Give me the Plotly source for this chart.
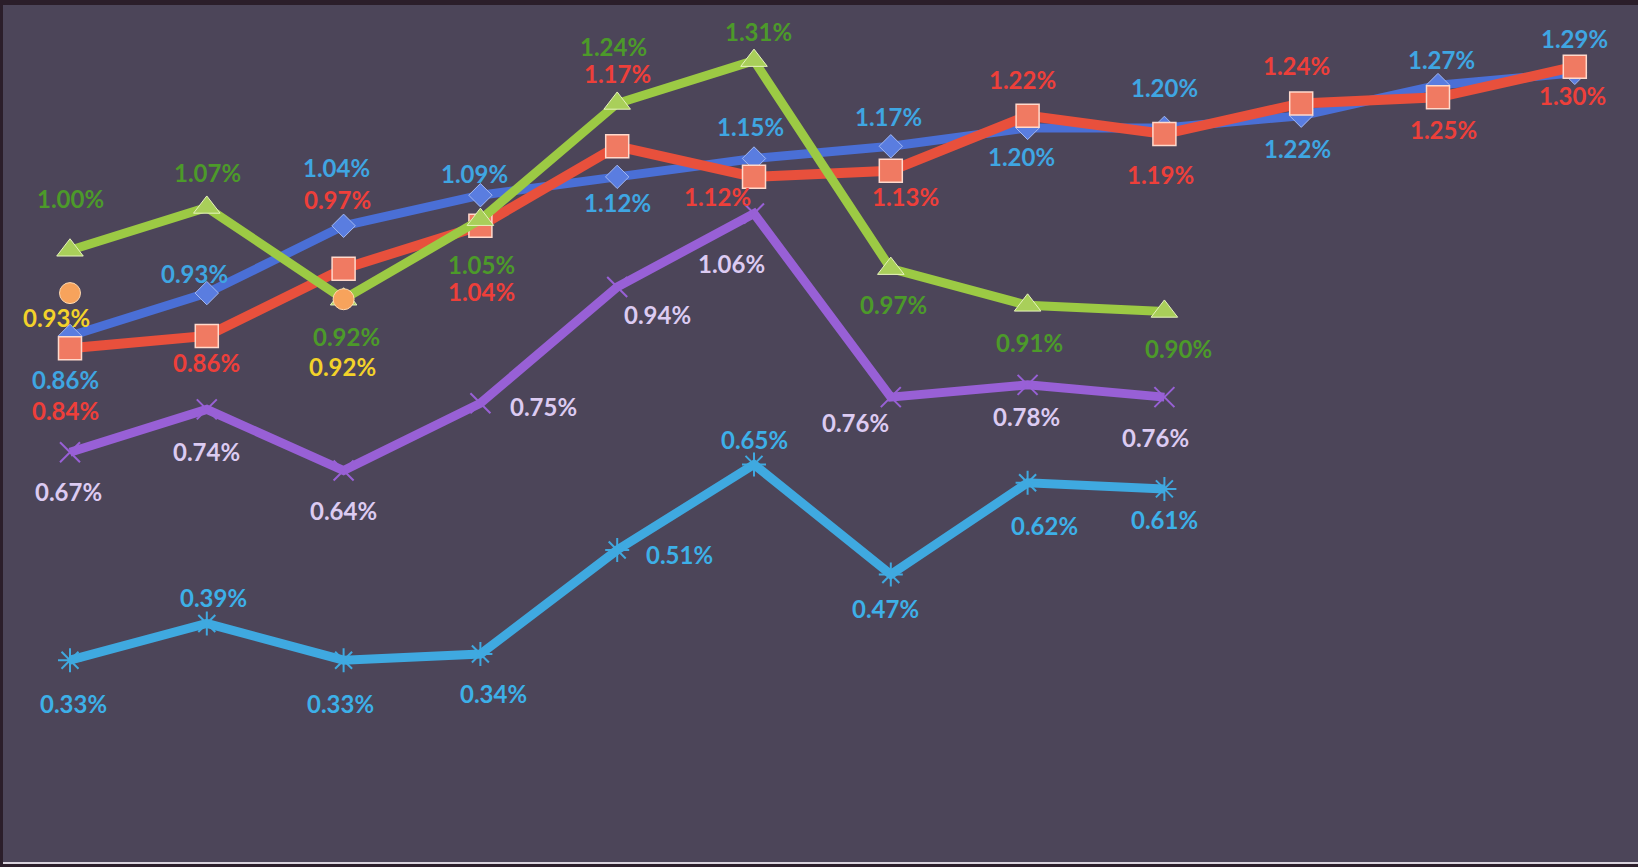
import plotly.graph_objects as go

# ---- data (values in %) ----
x_idx = list(range(12))
blue_vals = [0.86, 0.93, 1.04, 1.09, 1.12, 1.15, 1.17, 1.20, 1.20, 1.22, 1.27, 1.29]
red_vals = [0.84, 0.86, 0.97, 1.04, 1.17, 1.12, 1.13, 1.22, 1.19, 1.24, 1.25, 1.30]
green_vals = [1.00, 1.07, 0.92, 1.05, 1.24, 1.31, 0.97, 0.91, 0.90]
orange_x = [0, 2]
orange_vals = [0.93, 0.92]
purple_vals = [0.67, 0.74, 0.64, 0.75, 0.94, 1.06, 0.76, 0.78, 0.76]
lightblue_vals = [0.33, 0.39, 0.33, 0.34, 0.51, 0.65, 0.47, 0.62, 0.61]

# ---- label offsets (pixels: dx right, dy down) ----
blue_off = [(-5, 44), (-12, -20), (-7, -58), (-6, -22), (0, 26), (-4, -32), (-2, -30),
            (-6, 29), (0, -40), (-4, 33), (3, -26), (0, -34)]
red_off = [(-5, 62), (0, 27), (-6, -69), (1, 66), (0, -73), (-37, 20), (15, 26),
           (-5, -36), (-4, 40), (-5, -38), (5, 32), (-2, 29)]
green_off = [(0, -52), (1, -35), (3, 37), (1, 45), (-4, -57), (4, -29), (3, 36), (2, 37), (14, 37)]
orange_off = [(-14, 24), (-1, 67)]
purple_off = [(-2, 39), (0, 42), (0, 40), (63, 3), (40, 28), (-23, 50), (-35, 25), (-1, 32), (-9, 40)]
lightblue_off = [(3, 43), (7, -26), (-3, 43), (13, 39), (62, 4), (0, -25), (-5, 34), (17, 43), (0, 31)]

FONT = "Lato"
fig = go.Figure()


def add_series(xs, ys, line_color, lw, marker, show_line=True):
    fig.add_trace(go.Scatter(
        x=xs, y=ys,
        mode="lines+markers" if show_line else "markers",
        line=dict(color=line_color, width=lw),
        marker=marker,
        hoverinfo="skip", showlegend=False,
    ))


add_series(x_idx[:len(lightblue_vals)], lightblue_vals, "#3fa9e0", 9,
           dict(symbol="asterisk-open", size=20, line=dict(color="#4bb6ea", width=2)))
add_series(x_idx[:len(purple_vals)], purple_vals, "#9860d6", 9,
           dict(symbol="x-thin-open", size=20, line=dict(color="#8a55c8", width=2)))
add_series(x_idx, blue_vals, "#4a6fd6", 9,
           dict(symbol="diamond", size=18, color="#5a7de0", line=dict(color="#a3b8f2", width=1)))
add_series(x_idx, red_vals, "#e8503c", 10,
           dict(symbol="square", size=23, color="#f07a62", line=dict(color="#ffd9cc", width=1.5)))
add_series(x_idx[:len(green_vals)], green_vals, "#9cca44", 9,
           dict(symbol="triangle-up", size=23, color="#a9cf5a", line=dict(color="#e6f3bd", width=1)))
add_series(orange_x, orange_vals, "#f7a35c", 0,
           dict(symbol="circle", size=21, color="#f7a35c", line=dict(color="#ffd9ae", width=1)),
           show_line=False)

annotations = []


def add_labels(xs, ys, offs, color):
    for xv, yv, (dx, dy) in zip(xs, ys, offs):
        annotations.append(dict(
            x=xv, y=yv, xref="x", yref="y", text=f"{yv:.2f}%", showarrow=False,
            xshift=dx, yshift=-dy,
            font=dict(family=FONT, size=24, color=color, weight="bold"),
        ))


add_labels(x_idx, blue_vals, blue_off, "#3fa6e2")
add_labels(x_idx, red_vals, red_off, "#ee3f3a")
add_labels(x_idx, green_vals, green_off, "#4c9a2a")
add_labels(orange_x, orange_vals, orange_off, "#f3d22a")
add_labels(x_idx, purple_vals, purple_off, "#dccbf2")
add_labels(x_idx, lightblue_vals, lightblue_off, "#3db0e8")

fig.update_layout(
    width=1638, height=867,
    margin=dict(l=3, r=0, t=5, b=4, pad=0),
    paper_bgcolor="#2b1e2a",
    plot_bgcolor="#4c4559",
    xaxis=dict(range=[-0.4898, 11.462], visible=False, fixedrange=True),
    yaxis=dict(range=[-0.0015, 1.4009], visible=False, fixedrange=True),
    annotations=annotations,
    shapes=[dict(type="line", xref="paper", yref="paper", x0=0, x1=1, y0=0, y1=0,
                 line=dict(color="#d8d2dc", width=2))],
)

fig.write_html("out.html", config={"displayModeBar": False})
